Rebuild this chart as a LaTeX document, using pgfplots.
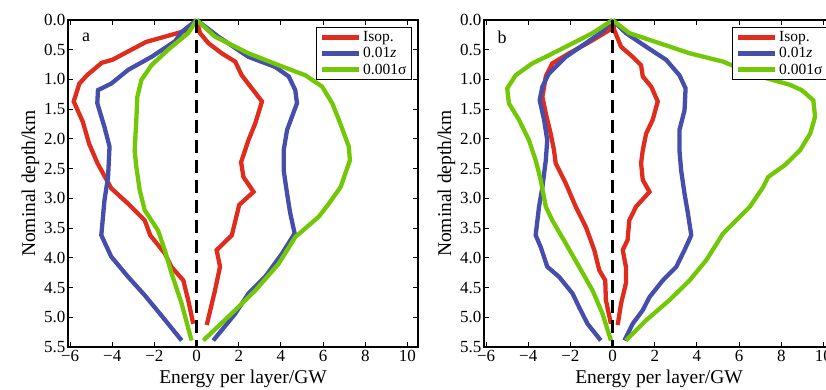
\documentclass[border=0pt]{standalone}
\usepackage{pgfplots}
\pgfplotsset{compat=1.18}
\usepackage{fontspec}
\setmainfont{Liberation Serif}
\definecolor{cred}{RGB}{224,44,28}
\definecolor{cblue}{RGB}{70,78,172}
\definecolor{cgreen}{RGB}{114,200,6}
\pgfplotsset{
  panel/.style={
    scale only axis, width=350pt, height=327pt,
    xmin=-6.1, xmax=10.5, ymin=0, ymax=5.5, y dir=reverse,
    xtick={-6,-4,...,10},
    xticklabels={−6,−4,−2,0,2,4,6,8,10},
    ytick={0,0.5,...,5.5},
    yticklabel style={xshift=1pt},
    /pgf/number format/.cd,fixed,fixed zerofill,precision=1,assume math mode=true,
    /pgfplots/.cd,
    tick label style={font=\fontsize{17}{19}\selectfont},
    label style={font=\fontsize{19.5}{22}\selectfont},
    xlabel={Energy per layer/GW},
    ylabel={Nominal depth/km},
    xlabel style={yshift=-1pt},
    ylabel style={yshift=-2pt},
    tick style={black, line width=1pt},
    major tick length=5pt,
    axis line style={line width=1.5pt},
    legend style={font=\fontsize{15.5}{17}\selectfont, at={(0.983,0.979)}, anchor=north east,
      draw=black, line width=1.3pt, inner xsep=3pt, inner ysep=2pt, row sep=0.5pt, cells={anchor=west}},
    legend cell align=left,
    every axis plot/.append style={line width=4.3pt},
    legend image code/.code={\draw[#1,line width=5pt] (0pt,0pt) -- (37pt,0pt);},
    clip=false,
  }
}
\begin{document}
\begin{tikzpicture}
% ---------------- Panel a ----------------
\begin{axis}[panel, at={(0,0)}]
\addplot[cred] coordinates {(0,0) (-0.4,0.17) (-2.4,0.37) (-4.0,0.67) (-4.5,0.72) (-5.2,0.93) (-5.56,1.07) (-5.83,1.37) (-5.4,1.71) (-5.1,2.08) (-4.7,2.41) (-4.05,2.83) (-3.25,3.09) (-2.46,3.37) (-2.2,3.62) (-1.5,3.93) (-1.2,4.15) (-0.63,4.38) (-0.4,4.71) (-0.16,5.11)};
\addlegendentry{Isop.}
\addplot[cblue] coordinates {(0,0) (-0.7,0.2) (-1.03,0.36) (-2.14,0.62) (-3.25,0.84) (-4.05,1.07) (-4.68,1.18) (-4.71,1.4) (-4.37,1.8) (-4.13,2.13) (-4.2,2.64) (-4.37,3.03) (-4.52,3.62) (-4.05,3.98) (-3.25,4.32) (-2.46,4.63) (-1.67,4.97) (-0.71,5.39)};
\addlegendentry{0.01\textit{z}}
\addplot[cgreen] coordinates {(0,0) (-0.4,0.22) (-1.35,0.5) (-2.14,0.76) (-2.62,1.01) (-2.81,1.29) (-2.86,1.68) (-2.94,2.19) (-2.86,2.47) (-2.7,2.86) (-2.46,3.2) (-1.83,3.54) (-1.51,3.87) (-1.19,4.26) (-0.71,4.77) (-0.24,5.39)};
\addlegendentry{0.001σ}
\addplot[cred, forget plot] coordinates {(0,0) (0.16,0.22) (0.56,0.39) (1.19,0.56) (1.83,0.7) (2.14,0.93) (2.62,1.15) (3.1,1.37) (2.78,1.74) (2.46,2.02) (2.11,2.39) (2.22,2.64) (2.7,2.89) (2.02,3.11) (1.67,3.62) (0.95,3.87) (1.11,4.15) (0.87,4.55) (0.48,5.13)};
\addplot[cblue, forget plot] coordinates {(0,0) (1.03,0.28) (2.46,0.62) (3.73,0.79) (4.37,0.95) (4.68,1.18) (4.76,1.4) (4.29,1.85) (4.13,2.19) (4.13,2.53) (4.29,2.92) (4.44,3.25) (4.65,3.59) (4.05,3.93) (3.25,4.32) (2.46,4.6) (1.83,4.94) (0.79,5.39)};
\addplot[cgreen, forget plot] coordinates {(0,0) (0.87,0.28) (2.46,0.56) (3.89,0.76) (5.16,0.93) (5.95,1.12) (6.43,1.4) (6.75,1.68) (7.22,2.13) (7.27,2.36) (6.83,2.81) (6.27,3.09) (5.79,3.31) (4.68,3.65) (3.89,4.1) (2.78,4.55) (1.83,4.88) (0.32,5.39)};
\addplot[black, line width=2.6pt, dash pattern=on 13pt off 7pt, forget plot] coordinates {(0,0) (0,5.5)};
\node[font=\fontsize{18}{20}\selectfont] at (axis cs:-5.24,0.29) {a};
\end{axis}
% ---------------- Panel b ----------------
\begin{axis}[panel, at={(416pt,0)}]
\addplot[cred] coordinates {(0,0) (-0.16,0.17) (-0.95,0.34) (-2.06,0.56) (-2.86,0.73) (-3.17,0.95) (-3.33,1.29) (-3.17,1.57) (-2.94,1.91) (-2.78,2.19) (-2.7,2.41) (-2.22,2.75) (-1.75,3.14) (-1.27,3.48) (-0.87,3.87) (-0.63,4.21) (-0.35,4.38) (-0.32,4.71) (-0.08,5.11)};
\addlegendentry{Isop.}
\addplot[cblue] coordinates {(0,0) (-0.5,0.2) (-1.27,0.39) (-2.22,0.62) (-3.02,0.9) (-3.33,1.12) (-3.46,1.35) (-3.25,1.68) (-3.1,2.02) (-3.17,2.36) (-3.33,2.81) (-3.49,3.14) (-3.65,3.62) (-3.41,3.82) (-3.1,4.15) (-2.54,4.32) (-1.9,4.6) (-1.59,4.83) (-1.19,5.11) (-0.56,5.39)};
\addlegendentry{0.01\textit{z}}
\addplot[cgreen] coordinates {(0,0) (-0.95,0.22) (-2.22,0.45) (-3.17,0.62) (-3.81,0.73) (-4.6,0.93) (-5.0,1.15) (-4.92,1.4) (-4.44,1.68) (-3.97,2.02) (-3.65,2.36) (-3.41,2.69) (-3.17,3.14) (-2.86,3.37) (-2.22,3.76) (-1.59,4.15) (-0.95,4.55) (-0.48,4.94) (-0.08,5.39)};
\addlegendentry{0.001σ}
\addplot[cred, forget plot] coordinates {(0,0) (0.08,0.17) (0.4,0.45) (0.95,0.62) (1.35,0.76) (1.43,0.95) (1.83,1.12) (2.14,1.37) (1.9,1.68) (1.59,1.91) (1.43,2.19) (1.35,2.41) (1.43,2.69) (1.75,2.89) (1.11,3.14) (0.79,3.37) (0.71,3.7) (0.48,3.87) (0.63,4.15) (0.63,4.43) (0.4,4.77) (0.24,5.13)};
\addplot[cblue, forget plot] coordinates {(0,0) (0.63,0.22) (1.59,0.45) (2.54,0.67) (3.17,0.93) (3.46,1.15) (3.41,1.52) (3.17,1.85) (3.17,2.19) (3.25,2.53) (3.41,2.92) (3.57,3.25) (3.73,3.62) (3.41,3.87) (3.02,4.15) (2.38,4.38) (1.75,4.66) (1.43,4.88) (0.95,5.11) (0.56,5.39)};
\addplot[cgreen, forget plot] coordinates {(0,0) (0.79,0.22) (2.22,0.39) (3.65,0.56) (5.24,0.7) (6.19,0.84) (7.3,0.98) (8.41,1.09) (8.97,1.18) (9.52,1.35) (9.6,1.63) (9.37,1.91) (8.89,2.19) (8.17,2.44) (7.38,2.64) (7.14,2.81) (6.51,3.14) (5.24,3.59) (4.44,4.04) (3.65,4.38) (2.7,4.71) (1.59,5.05) (0.63,5.39)};
\addplot[black, line width=2.6pt, dash pattern=on 13pt off 7pt, forget plot] coordinates {(0,0) (0,5.5)};
\node[font=\fontsize{18}{20}\selectfont] at (axis cs:-5.24,0.29) {b};
\end{axis}
\pgfresetboundingbox
\useasboundingbox (-68pt,-43pt) rectangle (758pt,347pt);
\end{tikzpicture}
\end{document}
